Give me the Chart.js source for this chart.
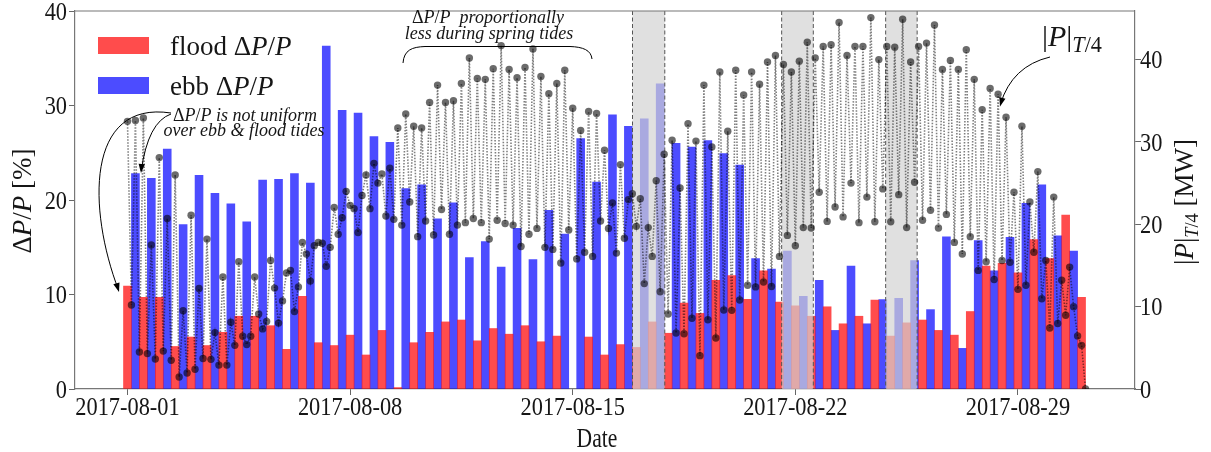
<!DOCTYPE html>
<html>
<head>
<meta charset="utf-8">
<script src="https://cdn.jsdelivr.net/npm/chart.js@4.4.1/dist/chart.umd.min.js"></script>
<style>
  html, body { margin: 0; padding: 0; background: #ffffff; }
  #wrap { width: 1211px; height: 452px; }
</style>
</head>
<body>
<div id="wrap"><canvas id="c" width="1211" height="452"></canvas></div>
<script>
// Flood-tide ΔP/P [%], one bar every 12 h starting 2017-08-01 00:00
const floodDP = [
  10.9, 9.7, 9.7, 4.5, 5.5, 4.6, 6.0, 7.7, 7.7, 6.7,
  4.2, 9.8, 4.9, 4.6, 5.7, 3.6, 6.2, 0.15, 4.9, 6.0,
  7.1, 7.3, 5.1, 6.4, 5.8, 6.7, 5.0, 5.6, null, 5.5,
  3.6, 4.7, 4.4, 7.1, 5.9, 9.1, 8.0, 11.5, 12.0, 9.5,
  12.5, 9.2, 8.8, 7.7, 8.7, 6.9, 7.7, 9.4, 5.6, 7.0,
  7.3, 6.2, 5.7, 8.2, 13.0, 13.3, 12.3, 15.8, 13.8, 18.4,
  9.7
];
// Ebb-tide ΔP/P [%], 6 h after each flood bar
const ebbDP = [
  22.8, 22.3, 25.4, 17.4, 22.6, 20.7, 19.6, 17.7, 22.1, 22.2,
  22.8, 21.8, 36.3, 29.5, 29.2, 26.7, 26.1, 21.2, 21.6, 18.0,
  19.7, 13.9, 15.6, 12.9, 17.0, 13.7, 18.9, 16.4, 26.5, 21.9,
  29.0, 27.8, 28.6, 32.3, 26.0, 25.6, 26.3, 24.9, 23.7, 13.8,
  12.7, 14.6, 9.8, 11.5, 6.2, 13.0, 6.9, 9.45, 9.6, 13.6,
  8.4, 16.1, 4.3, 15.7, 12.5, 16.05, 19.65, 21.6, 16.2, 14.6
];
// |P| sampled every quarter tidal period (3 h) [MW]
const powerT4 = [
  32.5, 10.2, 32.6, 4.5, 32.9, 4.3, 17.5, 3.65, 28.1, 4.6,
  20.7, 3.5, 26.0, 1.46, 9.5, 1.95, 21.1, 2.4, 12.2, 3.7,
  18.2, 3.6, 6.85, 2.9, 13.6, 2.9, 8.1, 5.3, 15.45, 6.4,
  5.4, 6.4, 13.6, 9.1, 7.3, 8.2, 15.6, 12.25, 8.0, 10.7,
  14.1, 14.4, 9.4, 12.4, 17.8, 16.4, 13.1, 17.4, 17.8, 17.7,
  14.9, 17.2, 22.05, 18.8, 20.8, 24.0, 22.3, 21.9, 19.0, 23.5,
  26.0, 21.9, 27.4, 25.0, 26.1, 21.0, 26.8, 20.6, 31.7, 19.9,
  33.4, 22.7, 31.9, 18.5, 31.7, 20.4, 34.8, 18.7, 36.9, 21.8,
  34.8, 18.8, 35.0, 19.9, 37.1, 20.2, 40.2, 20.7, 37.7, 20.2,
  37.6, 18.2, 38.9, 20.5, 41.7, 20.1, 38.8, 19.9, 37.8, 17.3,
  39.05, 18.8, 41.3, 19.5, 37.95, 17.2, 35.85, 16.95, 37.1, 15.3,
  38.7, 19.3, 34.1, 15.8, 31.4, 16.6, 33.7, 16.1, 33.45, 20.4,
  29.0, 19.5, 22.6, 16.5, 27.25, 18.3, 23.0, 23.7, 19.75, 23.1,
  12.8, 19.6, 16.1, 25.3, 11.8, 28.5, 9.1, 30.2, 6.8, 24.4,
  6.7, 32.2, 8.6, 30.1, 4.05, 36.9, 8.4, 29.4, 6.2, 38.5,
  9.6, 31.3, 9.55, 38.7, 10.8, 35.7, 12.6, 38.5, 12.4, 37.0,
  13.0, 39.7, 12.45, 40.5, 16.1, 39.4, 18.65, 38.5, 17.4, 39.8,
  19.6, 42.1, 19.55, 40.2, 23.9, 41.6, 20.35, 41.8, 22.1, 44.5,
  20.9, 40.5, 25.0, 41.6, 20.2, 41.6, 23.3, 45.1, 20.3, 40.0,
  24.3, 41.6, 20.3, 41.5, 23.6, 44.9, 19.6, 39.7, 25.1, 41.6,
  20.5, 42.0, 21.7, 44.2, 19.55, 38.8, 21.2, 39.9, 17.8, 38.8,
  16.4, 41.2, 18.5, 37.6, 14.4, 33.9, 15.45, 36.5, 13.3, 35.8,
  15.6, 33.0, 15.4, 23.9, 12.1, 31.9, 12.6, 22.7, 16.6, 26.4,
  10.95, 15.6, 7.4, 23.3, 7.95, 13.2, 8.95, 14.8, 10.0, 6.45,
  5.3, 0
];
// Date ticks, in days after 2017-08-01 00:00
const tickDays = [0, 7, 14, 21, 28];
const tickLabels = ['2017-08-01', '2017-08-08', '2017-08-15', '2017-08-22', '2017-08-29'];
const leftTicks = [0, 10, 20, 30, 40];
const rightTicks = [0, 10, 20, 30, 40];
// Periods excluded from the analysis, in days after 2017-08-01 00:00
const shadedDays = [[15.88, 16.895], [20.57, 21.565], [23.84, 24.83]];

const SERIF = '"Liberation Serif", "Times New Roman", serif';
const TXT = '#161616';
const RED = 'rgba(255,0,0,0.7)';
const BLUE = 'rgba(0,0,255,0.7)';

const floodPts = floodDP.map((v, i) => ({ x: i * 0.5, y: v }));
const ebbPts = ebbDP.map((v, i) => ({ x: i * 0.5 + 0.25, y: v }));
const powerPts = powerT4.map((v, i) => ({ x: i * 0.125, y: v }));

// Draws a run of text pieces (roman / italic / subscript) on one baseline
function drawRuns(ctx, runs, x, y, opt) {
  const size = opt.size, sx = opt.sx || 1, align = opt.align || 'left';
  const subScale = opt.subScale || 0.68;
  ctx.save();
  ctx.translate(x, y);
  if (opt.rot) ctx.rotate(opt.rot);
  ctx.scale(sx, 1);
  ctx.textBaseline = 'alphabetic';
  ctx.textAlign = 'left';
  ctx.fillStyle = opt.color || TXT;
  let total = 0;
  const parts = runs.map(r => {
    const fs = r.sub ? size * subScale : size;
    const font = (r.it ? 'italic ' : '') + fs + 'px ' + SERIF;
    ctx.font = font;
    const w = ctx.measureText(r.t).width;
    total += w;
    return { r, font, w };
  });
  let cx = align === 'center' ? -total / 2 : (align === 'right' ? -total : 0);
  for (const p of parts) {
    ctx.font = p.font;
    ctx.fillText(p.r.t, cx, p.r.sub ? size * 0.2 : 0);
    cx += p.w;
  }
  ctx.restore();
}

function arrowHead(ctx, fx, fy, tx, ty) {
  const ang = Math.atan2(ty - fy, tx - fx);
  const L = 9, W = 3.2;
  ctx.beginPath();
  ctx.moveTo(tx, ty);
  ctx.lineTo(tx - L * Math.cos(ang) + W * Math.sin(ang), ty - L * Math.sin(ang) - W * Math.cos(ang));
  ctx.lineTo(tx - L * Math.cos(ang) - W * Math.sin(ang), ty - L * Math.sin(ang) + W * Math.cos(ang));
  ctx.closePath();
  ctx.fill();
}

const decor = {
  id: 'decor',
  beforeDatasetDraw(chart, args) {
    if (args.meta.type !== 'line') return;
    const { ctx, chartArea: a, scales: { x } } = chart;
    ctx.save();
    for (const [d0, d1] of shadedDays) {
      const x0 = x.getPixelForValue(d0), x1 = x.getPixelForValue(d1);
      ctx.fillStyle = 'rgba(210,210,210,0.69)';
      ctx.fillRect(x0, a.top, x1 - x0, a.bottom - a.top);
      ctx.strokeStyle = '#555';
      ctx.lineWidth = 1;
      ctx.setLineDash([4, 2.5]);
      ctx.beginPath();
      ctx.moveTo(x0, a.top); ctx.lineTo(x0, a.bottom);
      ctx.moveTo(x1, a.top); ctx.lineTo(x1, a.bottom);
      ctx.stroke();
    }
    ctx.restore();
  },
  afterDraw(chart) {
    const { ctx, chartArea: a, scales } = chart;
    const x = scales.x, yl = scales.yDP, yr = scales.yP;
    ctx.save();
    // top spine
    ctx.strokeStyle = '#777';
    ctx.lineWidth = 1.2;
    ctx.beginPath();
    ctx.moveTo(a.left, a.top); ctx.lineTo(a.right, a.top);
    ctx.stroke();

    // tick labels
    const TS = 26, TSX = 0.86;
    tickDays.forEach((d, i) => {
      drawRuns(ctx, [{ t: tickLabels[i] }], x.getPixelForValue(d), 415, { size: TS, sx: TSX, align: 'center' });
    });
    leftTicks.forEach(v => {
      drawRuns(ctx, [{ t: String(v) }], 67, yl.getPixelForValue(v) + 8.6, { size: TS, sx: TSX, align: 'right' });
    });
    rightTicks.forEach(v => {
      drawRuns(ctx, [{ t: String(v) }], 1140, yr.getPixelForValue(v) + 8.6, { size: TS, sx: TSX, align: 'left' });
    });

    // axis titles
    drawRuns(ctx, [{ t: 'Date' }], 597, 447, { size: 27, sx: 0.8, align: 'center' });
    drawRuns(ctx, [{ t: 'Δ' }, { t: 'P', it: 1 }, { t: '/' }, { t: 'P', it: 1 }, { t: ' [%]' }],
      31, 201, { size: 27, align: 'center', rot: -Math.PI / 2 });
    drawRuns(ctx, [{ t: '|' }, { t: 'P', it: 1 }, { t: '|' }, { t: 'T', it: 1, sub: 1 }, { t: '/4', sub: 1 }, { t: ' [MW]' }],
      1193, 202, { size: 27, align: 'center', rot: -Math.PI / 2 });

    // legend
    ctx.fillStyle = RED;
    ctx.fillRect(98, 37, 51, 17);
    ctx.fillStyle = BLUE;
    ctx.fillRect(98, 77, 51, 17);
    drawRuns(ctx, [{ t: 'flood ' }, { t: 'Δ' }, { t: 'P', it: 1 }, { t: '/' }, { t: 'P', it: 1 }], 170, 55, { size: 27 });
    drawRuns(ctx, [{ t: 'ebb ' }, { t: 'Δ' }, { t: 'P', it: 1 }, { t: '/' }, { t: 'P', it: 1 }], 170, 95, { size: 27 });

    // annotations
    const AS = 18;
    drawRuns(ctx, [{ t: 'Δ' }, { t: 'P', it: 1 }, { t: '/' }, { t: 'P', it: 1 }, { t: ' is not uniform', it: 1 }], 245, 121, { size: AS, align: 'center' });
    drawRuns(ctx, [{ t: 'over ebb & flood tides', it: 1 }], 244, 136, { size: AS, align: 'center' });
    drawRuns(ctx, [{ t: 'Δ' }, { t: 'P', it: 1 }, { t: '/' }, { t: 'P', it: 1 }, { t: '  proportionally', it: 1 }], 488, 23, { size: AS, align: 'center' });
    drawRuns(ctx, [{ t: 'less during spring tides', it: 1 }], 489, 39, { size: AS, align: 'center' });
    drawRuns(ctx, [{ t: '|' }, { t: 'P', it: 1 }, { t: '|' }, { t: 'T', it: 1, sub: 1 }, { t: '/4', sub: 1 }], 1042, 46, { size: 30, subScale: 0.74 });

    ctx.strokeStyle = '#000';
    ctx.fillStyle = '#000';
    ctx.lineWidth = 1;
    ctx.setLineDash([]);
    // long arrow to the first flood bar
    ctx.beginPath();
    ctx.moveTo(171, 113);
    ctx.bezierCurveTo(85, 100, 88, 210, 118.5, 290);
    ctx.stroke();
    arrowHead(ctx, 110, 262, 119, 292);
    // short arrow to the first ebb bar
    ctx.beginPath();
    ctx.moveTo(171, 114);
    ctx.quadraticCurveTo(148, 122, 141.2, 171);
    ctx.stroke();
    arrowHead(ctx, 143, 150, 141, 173);
    // arrow to the power series
    ctx.beginPath();
    ctx.moveTo(1050, 57);
    ctx.quadraticCurveTo(1012, 66, 1000.5, 104);
    ctx.stroke();
    arrowHead(ctx, 1005, 88, 1000, 106.5);
    // bracket over the spring-tide period
    ctx.beginPath();
    ctx.moveTo(403, 63);
    ctx.bezierCurveTo(404, 50, 412, 47, 425, 46.5);
    ctx.lineTo(570, 46.5);
    ctx.bezierCurveTo(583, 47, 591, 50, 592, 59);
    ctx.stroke();
    ctx.restore();
  }
};

const axisGrid = { drawOnChartArea: false, drawTicks: true, tickLength: 6, color: '#666', tickWidth: 1, offset: false };
const axisBorder = { display: true, color: '#777', width: 1.2 };

new Chart(document.getElementById('c'), {
  data: {
    datasets: [
      {
        type: 'line', label: '|P|T/4', data: powerPts, yAxisID: 'yP', xAxisID: 'x', order: 0,
        borderColor: 'rgba(0,0,0,0.5)', borderWidth: 1.6, borderDash: [1.5, 1.5],
        pointRadius: 3.7, pointBackgroundColor: 'rgba(0,0,0,0.58)', pointBorderWidth: 0,
        tension: 0, fill: false
      },
      {
        type: 'bar', label: 'flood ΔP/P', data: floodPts, yAxisID: 'yDP', xAxisID: 'x', order: 1,
        backgroundColor: RED, grouped: false, barPercentage: 1, categoryPercentage: 1, borderWidth: 0
      },
      {
        type: 'bar', label: 'ebb ΔP/P', data: ebbPts, yAxisID: 'yDP', xAxisID: 'x', order: 1,
        backgroundColor: BLUE, grouped: false, barPercentage: 1, categoryPercentage: 1, borderWidth: 0
      }
    ]
  },
  options: {
    responsive: false,
    animation: false,
    devicePixelRatio: 1,
    layout: { padding: { top: 11, left: 0, right: 0, bottom: 0 } },
    plugins: { legend: { display: false }, tooltip: { enabled: false } },
    scales: {
      x: {
        type: 'linear', position: 'bottom', min: -1.65, max: 31.68, offset: false,
        afterBuildTicks: s => { s.ticks = tickDays.map(v => ({ value: v })); },
        afterFit: s => { s.height = 63; },
        ticks: { display: false },
        grid: axisGrid, border: axisBorder
      },
      yDP: {
        type: 'linear', position: 'left', min: 0, max: 40,
        afterBuildTicks: s => { s.ticks = leftTicks.map(v => ({ value: v })); },
        afterFit: s => { s.width = 75; },
        ticks: { display: false },
        grid: axisGrid, border: axisBorder
      },
      yP: {
        type: 'linear', position: 'right', min: 0, max: 45.9,
        afterBuildTicks: s => { s.ticks = rightTicks.map(v => ({ value: v })); },
        afterFit: s => { s.width = 76; },
        ticks: { display: false },
        grid: axisGrid, border: axisBorder
      }
    }
  },
  plugins: [decor]
});
</script>
</body>
</html>
